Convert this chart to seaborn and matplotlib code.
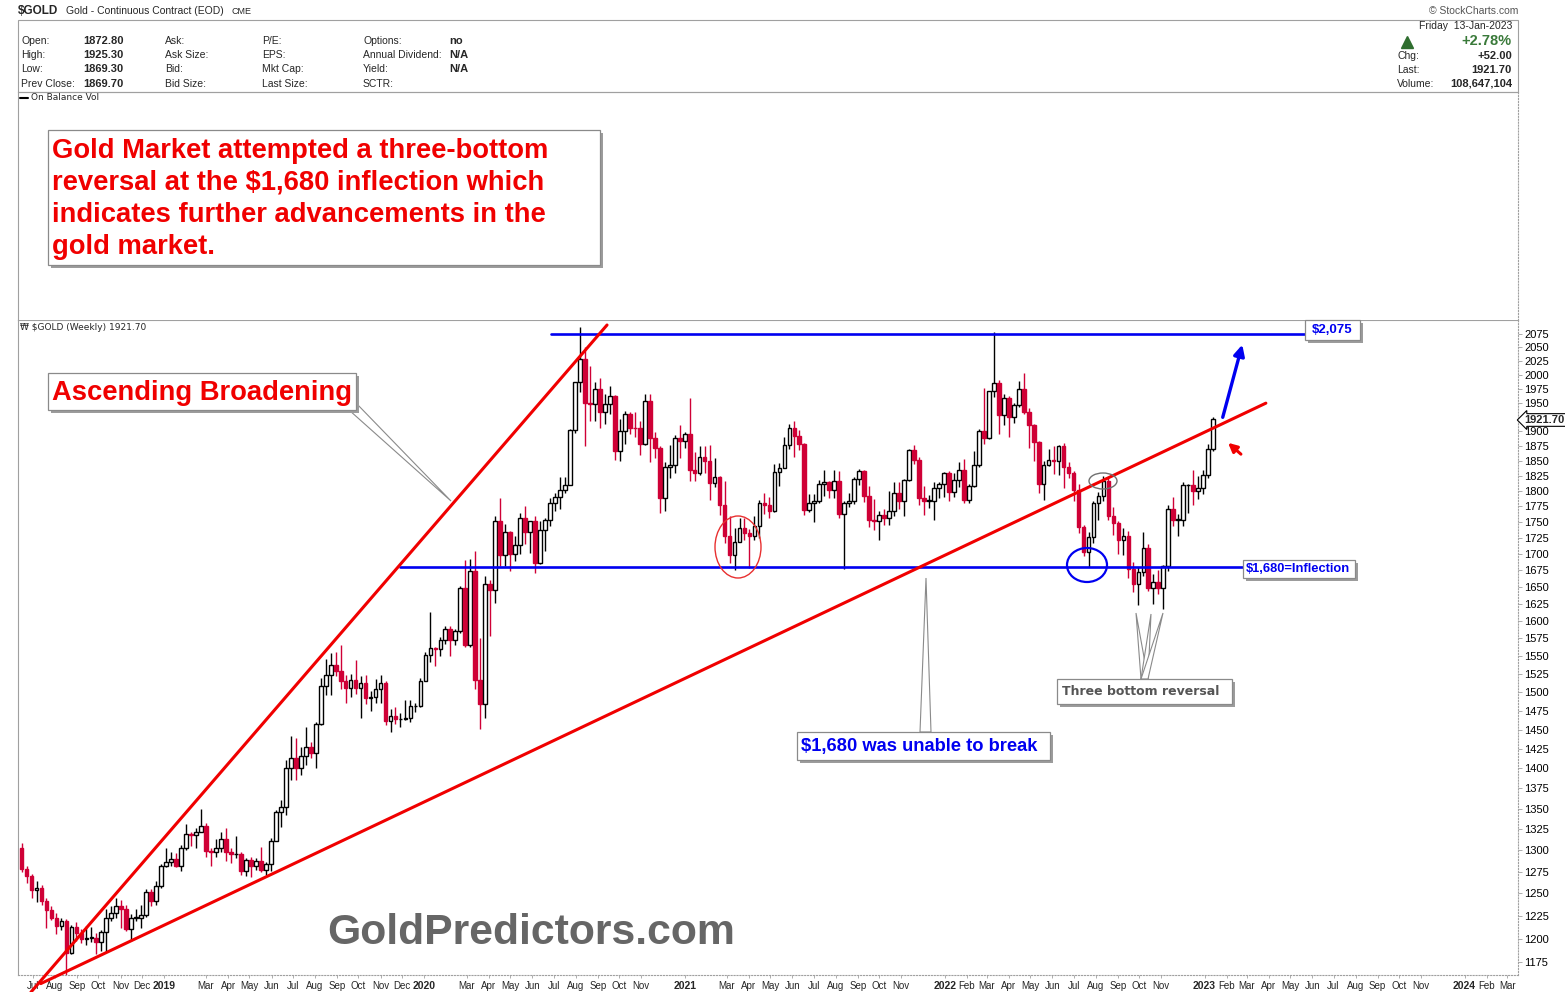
import matplotlib
matplotlib.use("Agg")
import matplotlib.dates as mdates
import matplotlib.pyplot as plt
import pandas as pd
import seaborn as sns
from matplotlib.patches import Ellipse, Polygon, Rectangle
from matplotlib.ticker import FixedLocator, FixedFormatter, NullLocator

# weekly $GOLD candles, weeks ending 2018-06-15 .. 2023-01-13
first_week = "2018-06-15"
first_open = 1302.0
closes = [
    # 2018
    1278, 1270, 1254, 1256, 1241, 1231, 1223, 1214, 1219, 1184, 1213, 1206, 1199, 1201, 1201,
    1196, 1207, 1222, 1228, 1236, 1233, 1210, 1223, 1223, 1226, 1252, 1241, 1258, 1282,
    # 2019
    1286, 1290, 1282, 1303, 1319, 1318, 1322, 1329, 1299, 1298, 1303, 1313, 1298,
    1295, 1295, 1276, 1288, 1281, 1287, 1277, 1284, 1311, 1346, 1352, 1400, 1413,
    1400, 1416, 1427, 1419, 1457, 1509, 1524, 1537, 1529, 1515, 1506, 1516, 1506,
    1513, 1492, 1494, 1505, 1513, 1462, 1468, 1464, 1464, 1465, 1481, 1481, 1515,
    # 2020
    1552, 1561, 1560, 1572, 1589, 1573, 1586, 1649, 1566, 1674, 1516, 1484, 1654,
    1645, 1752, 1698, 1735, 1700, 1714, 1756, 1735, 1751, 1686, 1738, 1753, 1781,
    1790, 1801, 1810, 1902, 1986, 2028, 1949, 1947, 1975, 1934, 1948, 1962, 1866,
    1900, 1930, 1906, 1905, 1879, 1952, 1889, 1872, 1788, 1840, 1843, 1888, 1883, 1895,
    # 2021
    1835, 1829, 1856, 1850, 1813, 1823, 1777, 1728, 1698, 1719, 1741, 1733,
    1728, 1743, 1780, 1778, 1768, 1831, 1838, 1877, 1905, 1892, 1879, 1769, 1781,
    1784, 1811, 1815, 1802, 1817, 1763, 1780, 1784, 1819, 1833, 1792, 1754, 1751,
    1761, 1757, 1768, 1796, 1784, 1818, 1868, 1852, 1788, 1784, 1784, 1805, 1811, 1829,
    # 2022
    1798, 1818, 1835, 1786, 1808, 1842, 1900, 1889, 1970, 1985, 1929, 1958,
    1924, 1945, 1974, 1934, 1911, 1882, 1811, 1842, 1851, 1850, 1875, 1840, 1830,
    1801, 1742, 1703, 1727, 1781, 1791, 1816, 1760, 1749, 1721, 1728, 1677, 1655, 1672,
    1709, 1648, 1657, 1648, 1681, 1771, 1754, 1754, 1809, 1810, 1800, 1804, 1826,
    # 2023
    1870, 1921.7,
]
highs = [
    1309, 1282, 1272, 1264, 1260, 1245, 1236, 1228, 1222, 1221, 1215, 1218, 1210, 1214, 1213,
    1206, 1209, 1233, 1236, 1245, 1243, 1237, 1227, 1233, 1237, 1255, 1255, 1264, 1284,
    1302, 1298, 1297, 1306, 1331, 1322, 1326, 1349, 1332, 1302, 1313, 1322, 1326,
    1303, 1317, 1298, 1291, 1292, 1291, 1304, 1286, 1314, 1348, 1360, 1411, 1442,
    1439, 1427, 1453, 1434, 1460, 1520, 1546, 1554, 1555, 1566, 1523, 1525, 1545,
    1522, 1524, 1501, 1518, 1524, 1515, 1478, 1480, 1472, 1490, 1489, 1485, 1519,
    1556, 1613, 1563, 1577, 1592, 1592, 1588, 1652, 1691, 1692, 1704, 1576, 1666,
    1660, 1760, 1789, 1747, 1736, 1728, 1764, 1775, 1752, 1759, 1752, 1756, 1789,
    1797, 1823, 1823, 1904, 1986, 2089, 2051, 2015, 1987, 1994, 1966, 1980, 1963,
    1921, 1935, 1933, 1933, 1917, 1966, 1966, 1899, 1875, 1848, 1877, 1893, 1911, 1898,
    1959, 1864, 1875, 1875, 1877, 1855, 1824, 1816, 1760, 1740, 1757, 1756,
    1739, 1759, 1785, 1797, 1790, 1845, 1846, 1890, 1913, 1917, 1903, 1880, 1795,
    1795, 1818, 1834, 1816, 1834, 1833, 1783, 1796, 1823, 1836, 1834, 1808, 1787,
    1767, 1771, 1800, 1815, 1814, 1820, 1870, 1877, 1856, 1808, 1793, 1815, 1815, 1831,
    1832, 1830, 1848, 1853, 1812, 1866, 1904, 1976, 1971, 2078, 1990, 1966,
    1961, 1949, 1988, 2003, 1940, 1912, 1884, 1849, 1870, 1875, 1877, 1880, 1847,
    1832, 1812, 1745, 1735, 1784, 1799, 1824, 1822, 1774, 1752, 1740, 1736, 1688, 1680,
    1735, 1715, 1670, 1675, 1683, 1777, 1790, 1763, 1814, 1812, 1835, 1825, 1834,
    1878, 1925.3,
]
lows = [
    1275, 1262, 1245, 1240, 1237, 1211, 1220, 1205, 1209, 1161, 1183, 1197, 1195, 1193, 1196,
    1183, 1187, 1185, 1219, 1222, 1212, 1208, 1197, 1219, 1212, 1224, 1236, 1237, 1256,
    1280, 1282, 1280, 1276, 1300, 1305, 1303, 1322, 1292, 1282, 1292, 1298, 1287,
    1285, 1291, 1271, 1270, 1269, 1277, 1274, 1271, 1276, 1311, 1328, 1342, 1385,
    1385, 1392, 1404, 1413, 1401, 1456, 1496, 1496, 1522, 1504, 1485, 1493, 1497,
    1465, 1484, 1475, 1485, 1486, 1456, 1447, 1458, 1454, 1463, 1460, 1474, 1480,
    1517, 1542, 1536, 1550, 1567, 1550, 1565, 1583, 1563, 1563, 1504, 1451, 1466,
    1578, 1626, 1681, 1681, 1674, 1690, 1700, 1716, 1702, 1671, 1685, 1705, 1744,
    1767, 1771, 1797, 1810, 1897, 1968, 1874, 1918, 1917, 1906, 1913, 1930, 1851,
    1850, 1878, 1895, 1890, 1860, 1877, 1848, 1855, 1764, 1767, 1822, 1830, 1855, 1871,
    1817, 1817, 1826, 1830, 1785, 1807, 1761, 1717, 1687, 1676, 1719, 1722,
    1678, 1721, 1725, 1763, 1756, 1766, 1808, 1837, 1869, 1856, 1868, 1761, 1766,
    1750, 1781, 1792, 1789, 1789, 1756, 1677, 1774, 1779, 1810, 1782, 1742, 1737,
    1721, 1746, 1746, 1760, 1771, 1759, 1816, 1844, 1778, 1762, 1772, 1754, 1789, 1790,
    1783, 1790, 1806, 1780, 1780, 1807, 1840, 1878, 1886, 1960, 1895, 1910,
    1890, 1915, 1942, 1930, 1872, 1850, 1797, 1786, 1841, 1828, 1826, 1805, 1822,
    1784, 1733, 1697, 1680, 1717, 1753, 1783, 1753, 1729, 1700, 1699, 1663, 1643, 1623,
    1667, 1644, 1625, 1640, 1618, 1674, 1744, 1728, 1744, 1765, 1777, 1787, 1795,
    1822, 1867,
]

price_ticks = [1175, 1200, 1225, 1250, 1275, 1300, 1325, 1350, 1375, 1400, 1425, 1450,
               1475, 1500, 1525, 1550, 1575, 1600, 1625, 1650, 1675, 1700, 1725, 1750,
               1775, 1800, 1825, 1850, 1875, 1900, 1950, 1975, 2000, 2025, 2050, 2075]
month_ticks = ["2018-07", "2018-08", "2018-09", "2018-10", "2018-11", "2018-12",
               "2019-01", "2019-03", "2019-04", "2019-05", "2019-06", "2019-07", "2019-08",
               "2019-09", "2019-10", "2019-11", "2019-12",
               "2020-01", "2020-03", "2020-04", "2020-05", "2020-06", "2020-07", "2020-08",
               "2020-09", "2020-10", "2020-11",
               "2021-01", "2021-03", "2021-04", "2021-05", "2021-06", "2021-07", "2021-08",
               "2021-09", "2021-10", "2021-11",
               "2022-01", "2022-02", "2022-03", "2022-04", "2022-05", "2022-06", "2022-07",
               "2022-08", "2022-09", "2022-10", "2022-11",
               "2023-01", "2023-02", "2023-03", "2023-04", "2023-05", "2023-06", "2023-07",
               "2023-08", "2023-09", "2023-10", "2023-11",
               "2024-01", "2024-02", "2024-03"]

# drawn levels and trendlines (date, price)
resistance = (["2020-06-28", "2023-05-24"], [2075, 2075])
inflection = (["2019-11-29", "2023-02-26"], [1680, 1680])
steep_trend = (["2018-06-28", "2020-09-14"], [1143, 2092])
broad_trend = (["2018-07-12", "2023-03-28"], [1152, 1949])

RED = "#cf0036"
LINE_RED = "#f00000"
BLUE = "#0000f0"
GRAY = "#a0a0a0"

sns.set_theme(style="white")
plt.rcParams["font.family"] = ["Liberation Sans", "DejaVu Sans"]
plt.rcParams["text.parse_math"] = False

W, H = 1565, 992
fig = plt.figure(figsize=(W / 100, H / 100), dpi=100)
fig.patch.set_facecolor("white")


def frac(x0, y0, x1, y1):
    return [x0 / W, 1 - y1 / H, (x1 - x0) / W, (y1 - y0) / H]


ax = fig.add_axes(frac(18, 320, 1518, 975))
obv = fig.add_axes(frac(18, 92, 1518, 320))
ov = fig.add_axes([0, 0, 1, 1])
ov.set_xlim(0, W)
ov.set_ylim(H, 0)
ov.axis("off")
ov.patch.set_alpha(0)
ov.set_zorder(5)

# ---- candles ----
weeks = pd.date_range(first_week, periods=len(closes), freq="7D")
df = pd.DataFrame({"x": mdates.date2num(weeks), "close": closes, "high": highs, "low": lows})
df["open"] = [first_open] + closes[:-1]
up = df["close"] >= df["open"]
edge = [("black" if u else RED) for u in up]
face = [("white" if u else RED) for u in up]
body_lo = df[["open", "close"]].min(axis=1)
body_h = (df["close"] - df["open"]).abs().clip(lower=0.5)

ax.vlines(df["x"], df["low"], df["high"], colors=edge, lw=1.0, zorder=2)
ax.bar(df["x"], body_h, bottom=body_lo, width=5.2, color=face, edgecolor=edge,
       linewidth=1.0, zorder=3)

ax.set_yscale("log")
ax.set_ylim(1161, 2101.5)
ax.set_xlim(mdates.date2num(pd.Timestamp("2018-06-10")), mdates.date2num(pd.Timestamp("2024-03-16")))

# ---- trendlines / levels ----
for (dates, prices), col, lw in [(resistance, BLUE, 1.9), (inflection, BLUE, 1.9),
                                 (steep_trend, LINE_RED, 2.2), (broad_trend, LINE_RED, 2.2)]:
    sns.lineplot(x=mdates.date2num(pd.to_datetime(dates)), y=prices, ax=ax, color=col,
                 lw=lw, clip_on=False, zorder=4)
ax.set_xlabel("")
ax.set_ylabel("")

# ---- axes styling ----
ax.yaxis.tick_right()
ax.yaxis.set_major_locator(FixedLocator(price_ticks))
ax.yaxis.set_major_formatter(FixedFormatter([str(t) for t in price_ticks]))
ax.yaxis.set_minor_locator(NullLocator())
ax.tick_params(axis="y", right=True, left=False, labelsize=8, length=3, width=0.6,
               color=GRAY, pad=1.5, labelcolor="black")
tick_dates = pd.to_datetime(month_ticks)
ax.set_xticks(mdates.date2num(tick_dates))
ax.set_xticklabels([str(d.year) if d.month == 1 else d.strftime("%b") for d in tick_dates])
ax.tick_params(axis="x", bottom=True, labelsize=7, length=2, width=0.6, color=GRAY, pad=2)
for lab, d in zip(ax.get_xticklabels(), tick_dates):
    if d.month == 1:
        lab.set_fontweight("bold")
        lab.set_fontsize(7.5)
for a in (ax, obv):
    for side in ("left", "top"):
        a.spines[side].set_color(GRAY)
        a.spines[side].set_linewidth(0.8)
    for side in ("right", "bottom"):
        a.spines[side].set_color(GRAY)
        a.spines[side].set_linewidth(0.8)
        a.spines[side].set_linestyle(":")
    a.set_facecolor("white")
obv.set_xticks([])
obv.set_yticks([])
obv.spines["bottom"].set_visible(False)

# ---- header ----
ov.text(18, 11, "$GOLD", fontsize=8.5, fontweight="bold", va="center")
ov.text(66, 11, "Gold - Continuous Contract (EOD)", fontsize=7.5, va="center")
ov.text(231, 11, "CME", fontsize=6.5, va="center")
ov.text(1518, 11, "© StockCharts.com", fontsize=7.5, va="center", ha="right", color="#555555")
ov.add_patch(Rectangle((18, 20), 1500, 72, fc="none", ec=GRAY, lw=0.8))
rows_y = [41, 55, 69, 84]
cols = [
    (21, ["Open:", "High:", "Low:", "Prev Close:"], 83, ["1872.80", "1925.30", "1869.30", "1869.70"]),
    (165, ["Ask:", "Ask Size:", "Bid:", "Bid Size:"], None, None),
    (262, ["P/E:", "EPS:", "Mkt Cap:", "Last Size:"], None, None),
    (363, ["Options:", "Annual Dividend:", "Yield:", "SCTR:"], 449, ["no", "N/A", "N/A", ""]),
]
for lx, labels, vx, vals in cols:
    for i, y in enumerate(rows_y):
        ov.text(lx, y, labels[i], fontsize=7.5, va="center")
        if vals:
            ov.text(vx, y, vals[i], fontsize=8, fontweight="bold", va="center")
ov.text(1512, 26, "Friday  13-Jan-2023", fontsize=7.5, va="center", ha="right")
ov.plot([1407], [42], marker="^", ms=9, color="#2f6e2f", ls="none")
ov.text(1512, 41, "+2.78%", fontsize=10.5, fontweight="bold", color="#3a7a3a", va="center", ha="right")
for y, lab, val in [(56, "Chg:", "+52.00"), (70, "Last:", "1921.70"), (84, "Volume:", "108,647,104")]:
    ov.text(1397, y, lab, fontsize=7.5, va="center")
    ov.text(1512, y, val, fontsize=8, fontweight="bold", va="center", ha="right")
ov.plot([20, 28], [98, 98], color="black", lw=1.5)
ov.text(31, 98, "On Balance Vol", fontsize=6.5, va="center", family="DejaVu Sans")
ov.text(20, 327, "₩ $GOLD (Weekly) 1921.70", fontsize=6.5, va="center", family="DejaVu Sans")

# last price tag
ov.text(1524, 420, "1921.70", fontsize=8, fontweight="bold", va="center",
        bbox=dict(boxstyle="larrow,pad=0.12", fc="white", ec="black", lw=0.8))


# ---- annotation boxes ----
def note_box(x0, y0, x1, y1):
    ov.add_patch(Rectangle((x0 + 3, y0 + 3), x1 - x0, y1 - y0, fc="#9c9c9c", ec="none"))
    ov.add_patch(Rectangle((x0, y0), x1 - x0, y1 - y0, fc="white", ec="#8a8a8a", lw=0.9))


def callout(pts):
    ov.add_patch(Polygon(pts, closed=True, fc="white", ec="#8a8a8a", lw=0.8))


note_box(48, 130, 600, 265)
for i, line in enumerate(["Gold Market attempted a three-bottom",
                          "reversal at the $1,680 inflection which",
                          "indicates further advancements in the",
                          "gold market."]):
    ov.text(52, 151 + 32 * i, line, fontsize=19.7, fontweight="bold", color="#f00000", va="center")

callout([(349, 410), (356, 403), (451, 501)])
note_box(48, 373, 356, 410)
ov.text(52, 393, "Ascending Broadening", fontsize=19.7, fontweight="bold", color="#f00000", va="center")

callout([(920, 732), (931, 732), (926, 578)])
note_box(797, 732, 1050, 760)
ov.text(801, 746, "$1,680 was unable to break", fontsize=13.2, fontweight="bold", color=BLUE, va="center")

for tip in [(1136, 613), (1151, 614), (1163, 613)]:
    callout([(1141, 679), (1148, 679), tip])
note_box(1057, 679, 1232, 704)
ov.text(1062, 691.5, "Three bottom reversal", fontsize=9, fontweight="bold", color="#555555",
        va="center", family="DejaVu Sans")

note_box(1305, 320, 1360, 340)
ov.text(1332, 330, "$2,075", fontsize=9.5, fontweight="bold", color=BLUE, va="center", ha="center")
note_box(1243, 560, 1355, 578)
ov.text(1246, 569, "$1,680=Inflection", fontsize=9.3, fontweight="bold", color=BLUE, va="center")

# ellipses and arrows
ov.add_patch(Ellipse((738, 547), 46, 62, fc="none", ec="#e83030", lw=1))
ov.add_patch(Ellipse((1087, 565), 40, 34, fc="none", ec=BLUE, lw=1.6))
ov.add_patch(Ellipse((1103, 481), 28, 16, fc="none", ec="#707070", lw=1))
ov.annotate("", xy=(1243, 342), xytext=(1222, 420),
            arrowprops=dict(arrowstyle="-|>", color=BLUE, lw=2.4, mutation_scale=16))
ov.annotate("", xy=(1226, 441), xytext=(1243, 456),
            arrowprops=dict(arrowstyle="-|>", color="#f00000", lw=2.2, mutation_scale=13))

ov.text(327, 933, "GoldPredictors.com", fontsize=30.8, fontweight="bold", color="#666666", va="center")

fig.savefig("out.png", dpi=100, facecolor="white")
